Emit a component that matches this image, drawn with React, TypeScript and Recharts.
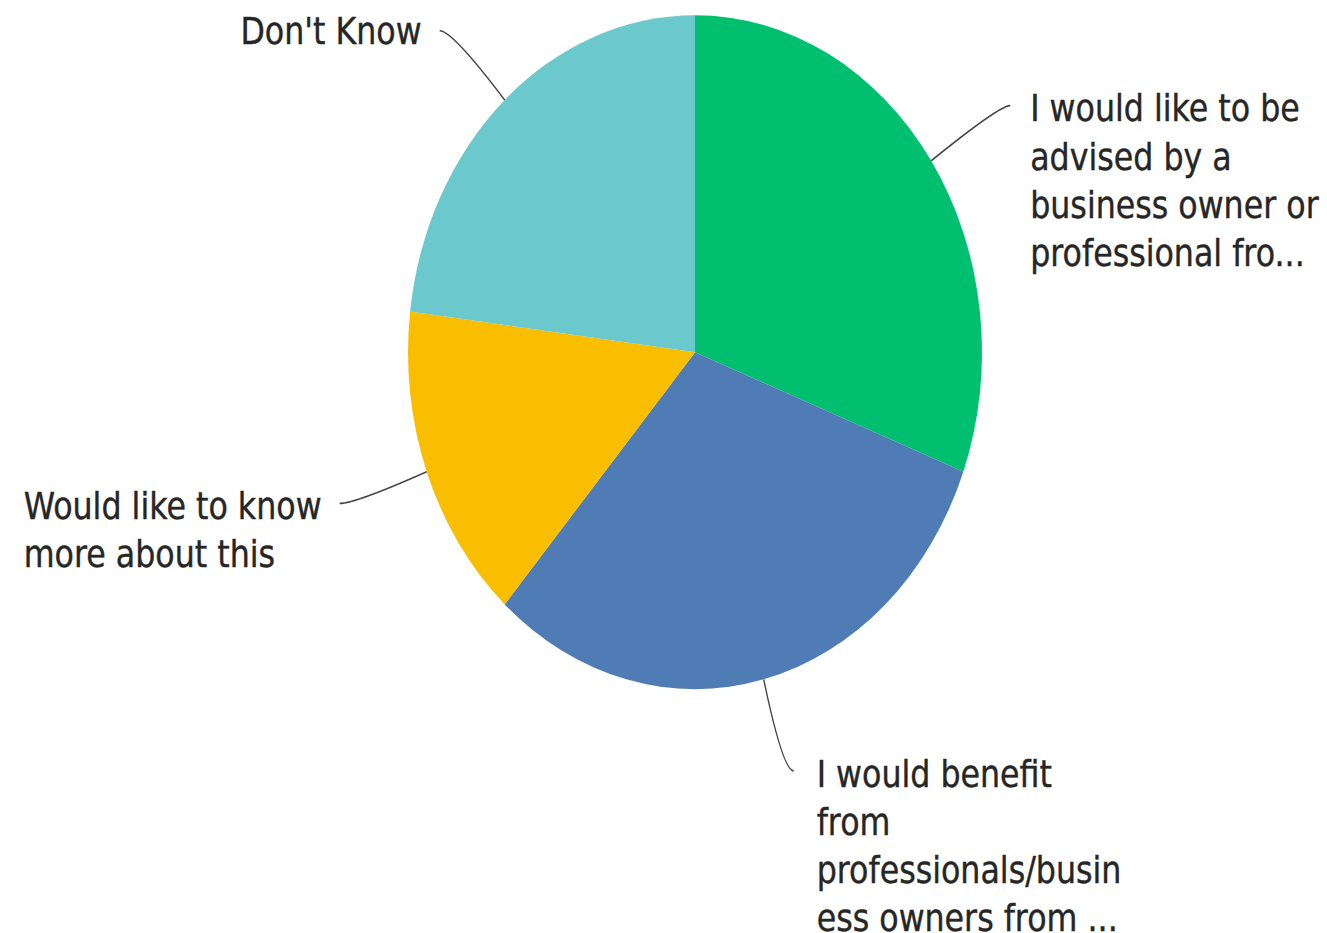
import { Cell, Pie, PieChart } from "recharts";

// answer options and response counts (13 respondents)
const CATEGORIES = [
  "I would like to be advised by a business owner or professional fro...",
  "I would benefit from professionals/business owners from ...",
  "Would like to know more about this",
  "Don't Know",
];
const RESPONSES = [4, 4, 2, 3];

// wrapped label text as shown next to each slice
const LABEL_LINES = [
  ["I would like to be", "advised by a", "business owner or", "professional fro..."],
  ["I would benefit", "from", "professionals/busin", "ess owners from ..."],
  ["Would like to know", "more about this"],
  ["Don't Know"],
];

const COLORS = ["#00bf6f", "#507cb6", "#f9be00", "#6bc8cd"];

// leader line end offsets from slice edge, and side of the text
const LABEL_LAYOUT = [
  { dx: 79, dy: -47, side: "right", gap: 20, ty: 2.5 },
  { dx: 30, dy: 78, side: "right", gap: 23, ty: 2.5 },
  { dx: -87, dy: 27, side: "left", gap: 18, ty: 2.5 },
  { dx: -65, dy: -59, side: "left", gap: 18, ty: 0 },
];

const W = 1327;
const H = 933;
const STRETCH = 1.174;
const CH = H / STRETCH;
const FONT = "'DejaVu Sans', 'Open Sans', sans-serif";
const FONT_SIZE = 31.7;
const LINE_H = 41;
const RAD = Math.PI / 180;

const data = CATEGORIES.map((name, i) => ({ name, value: RESPONSES[i] }));

let ctx: CanvasRenderingContext2D | null = null;
function textWidth(s: string) {
  if (!ctx) ctx = document.createElement("canvas").getContext("2d");
  if (!ctx) return s.length * FONT_SIZE * 0.5;
  ctx.font = `${FONT_SIZE}px ${FONT}`;
  return ctx.measureText(s).width;
}

function renderLabel(props: any) {
  const { cx, cy, midAngle, outerRadius, index } = props;
  const lay = LABEL_LAYOUT[index];
  const lines = LABEL_LINES[index];
  const cos = Math.cos(-midAngle * RAD);
  const sin = Math.sin(-midAngle * RAD);
  const sx = cx + outerRadius * cos;
  const sy = cy + outerRadius * sin;
  const ex = sx + lay.dx;
  const ey = sy + lay.dy;
  // control point: along the radial ray at the end point's height
  const t = Math.abs(sin) > 0.01 ? (ey - sy) / sin : 0;
  const qx = sx + cos * t;
  const qy = ey;
  const maxW = Math.max(...lines.map(textWidth));
  const tx = lay.side === "right" ? ex + lay.gap : ex - lay.gap - maxW;
  const ty = ey + lay.ty;
  return (
    <g key={`lbl-${index}`}>
      <path
        d={`M${sx},${sy} Q${qx},${qy} ${ex},${ey}`}
        fill="none"
        stroke="#444"
        strokeWidth={1.4}
      />
      <text
        x={tx}
        y={ty}
        fill="#262626"
        stroke="#262626"
        strokeWidth={0.35}
        fontFamily={FONT}
        fontSize={FONT_SIZE}
        textAnchor="start"
      >
        {lines.map((ln, i) => (
          <tspan key={i} x={tx} y={ty + i * LINE_H} dominantBaseline="central">
            {ln}
          </tspan>
        ))}
      </text>
    </g>
  );
}

export default function App() {
  return (
    <div
      style={{
        position: "absolute",
        left: 0,
        top: 0,
        width: W,
        height: H,
        overflow: "hidden",
        background: "#fff",
      }}
    >
      <div style={{ transform: `scaleY(${STRETCH})`, transformOrigin: "0 0" }}>
        <PieChart width={W} height={CH} margin={{ top: 0, right: 0, bottom: 0, left: 0 }}>
          <Pie
            data={data}
            dataKey="value"
            nameKey="name"
            cx={695}
            cy={300}
            outerRadius={287}
            startAngle={90}
            endAngle={-270}
            stroke="none"
            label={renderLabel}
            labelLine={false}
            isAnimationActive={false}
          >
            {data.map((_, i) => (
              <Cell key={i} fill={COLORS[i]} />
            ))}
          </Pie>
        </PieChart>
      </div>
    </div>
  );
}
